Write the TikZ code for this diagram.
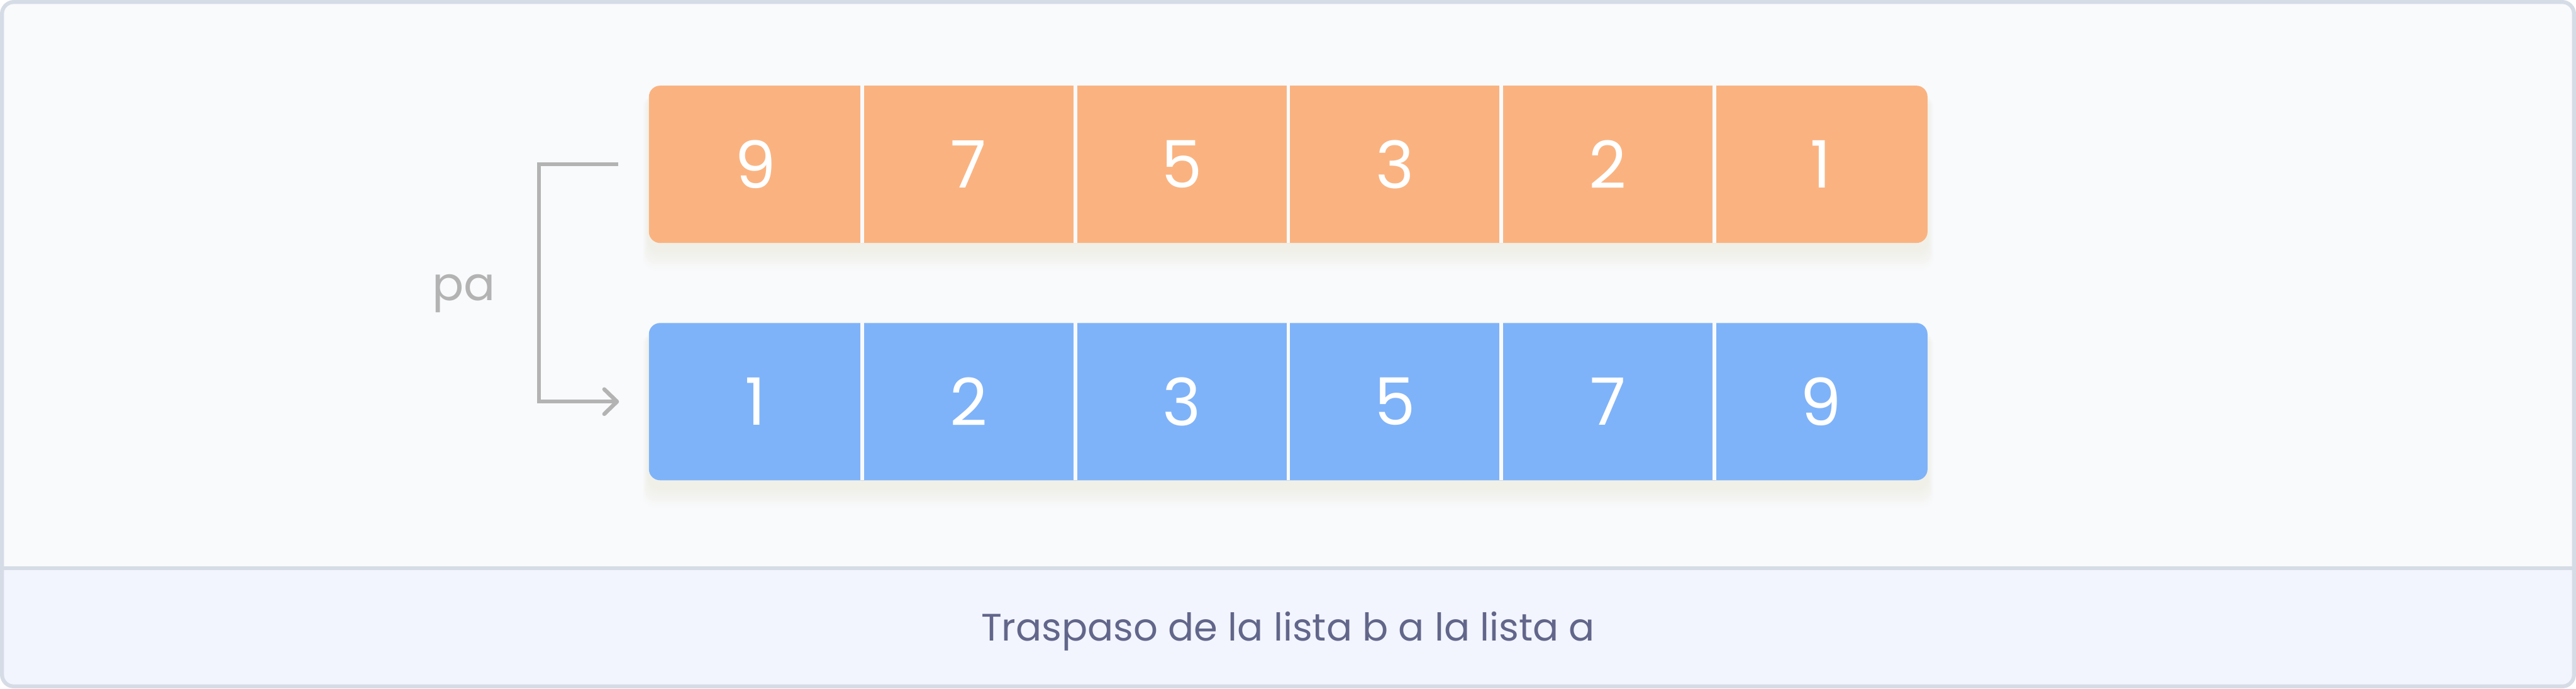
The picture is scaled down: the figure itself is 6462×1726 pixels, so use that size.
\documentclass[tikz,border=0pt]{standalone}
\usepackage{fontspec}
\setmainfont{Poppins}
\usetikzlibrary{arrows.meta}
\definecolor{frameC}{HTML}{D6DCE6}
\definecolor{bgC}{HTML}{F9FAFC}
\definecolor{capC}{HTML}{F2F5FD}
\definecolor{orangeC}{HTML}{FAB380}
\definecolor{blueC}{HTML}{7FB3F9}
\definecolor{grayC}{HTML}{B3B3B3}
\definecolor{textC}{HTML}{62668A}
\definecolor{shadowC}{HTML}{F0CDB0}
\pgfdeclarelayer{back}
\pgfdeclarelayer{mid}
\pgfsetlayers{back,mid,main}
\begin{document}
\begin{tikzpicture}[x=1pt,y=-1pt,
  cell/.style={minimum width=534.5pt,minimum height=394pt,inner sep=0pt,text=white,font=\fontsize{164}{164}\selectfont},
  sepline/.style={draw=bgC,line width=9pt},
  conn/.style={draw=grayC,line width=10pt},
  shadowlayer/.style={fill=shadowC,opacity=0.02,rounded corners=28pt}]
\useasboundingbox (0,0) rectangle (6462,1726);
\begin{pgfonlayer}{back}
  \fill[frameC, rounded corners=35pt] (0,0) rectangle (6462,1726);
  \begin{scope}
    \clip[rounded corners=25pt] (10,10) rectangle (6452,1716);
    \fill[bgC] (10,10) rectangle (6452,1425);
    \fill[capC] (10,1425) rectangle (6452,1716);
  \end{scope}
  \draw[frameC, line width=10pt] (5,1425) -- (6457,1425);
\end{pgfonlayer}
% cells
\foreach \v [count=\i] in {9,7,5,3,2,1}
  \node[cell] (a\i) at ({1628+534.5*(\i-0.5)},412) {\v};
\foreach \v [count=\i] in {1,2,3,5,7,9}
  \node[cell] (b\i) at ({1628+534.5*(\i-0.5)},1007) {\v};
\begin{pgfonlayer}{mid}
  \foreach \k in {1,...,10} {
    \fill[shadowlayer] ([xshift=-1.5*\k pt, yshift=-25pt]a1.north west) rectangle ([xshift=1.5*\k pt, yshift={-(18+5*\k)*1pt}]a6.south east);
    \fill[shadowlayer] ([xshift=-1.5*\k pt, yshift=-25pt]b1.north west) rectangle ([xshift=1.5*\k pt, yshift={-(18+5*\k)*1pt}]b6.south east);
  }
  \fill[orangeC, rounded corners=28pt] (a1.north west) rectangle (a6.south east);
  \fill[blueC, rounded corners=28pt] (b1.north west) rectangle (b6.south east);
\end{pgfonlayer}
\foreach \i in {1,...,5} {
  \draw[sepline] (a\i.north east) -- (a\i.south east);
  \draw[sepline] (b\i.north east) -- (b\i.south east);
}
% connector
\draw[conn, -{Straight Barb[length=32pt,width=62pt,round]}]
  ([xshift=-77pt]a1.west) -- ++(-199,0) |- ([xshift=-75pt]b1.west);
\node[font=\fontsize{117}{117}\selectfont, text=grayC, anchor=base] (pa) at (1163,753) {pa};
\node[font=\fontsize{96}{96}\selectfont, text=textC, anchor=base] (cap) at (3231,1607) {Traspaso de la lista b a la lista a};
\end{tikzpicture}
\end{document}
